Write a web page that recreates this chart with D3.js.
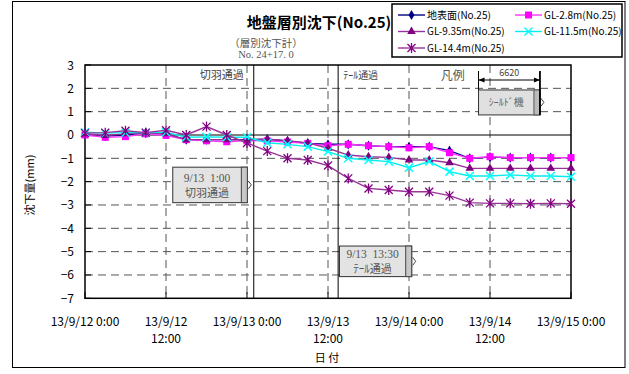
<!DOCTYPE html>
<html><head><meta charset="utf-8">
<script src="https://cdn.jsdelivr.net/npm/d3@7"></script>
<style>
body{margin:0;background:#fff;}
svg{display:block;}
text{font-family:"Noto Sans CJK JP","Noto Sans",sans-serif;}
</style></head>
<body><svg id="c" width="629" height="374"></svg>
<script>
const times = ["2013-09-12T00:00","2013-09-12T03:00","2013-09-12T06:00","2013-09-12T09:00","2013-09-12T12:00","2013-09-12T15:00","2013-09-12T18:00","2013-09-12T21:00",
"2013-09-13T00:00","2013-09-13T03:00","2013-09-13T06:00","2013-09-13T09:00","2013-09-13T12:00","2013-09-13T15:00","2013-09-13T18:00","2013-09-13T21:00",
"2013-09-14T00:00","2013-09-14T03:00","2013-09-14T06:00","2013-09-14T09:00","2013-09-14T12:00","2013-09-14T15:00","2013-09-14T18:00","2013-09-14T21:00",
"2013-09-15T00:00"];
const seriesNames = ["地表面(No.25)","GL-2.8m(No.25)","GL-9.35m(No.25)","GL-11.5m(No.25)","GL-14.4m(No.25)"];
const surface = [0.05,-0.05,0.0,0.1,0.05,-0.2,-0.2,-0.2,-0.2,-0.18,-0.26,-0.36,-0.4,-0.4,-0.46,-0.5,-0.5,-0.5,-0.67,-1.0,-0.95,-0.97,-0.97,-0.97,-0.97];
const gl28 = [0.0,-0.1,-0.07,0.05,-0.02,-0.2,-0.25,-0.29,-0.24,-0.25,-0.3,-0.36,-0.46,-0.4,-0.46,-0.5,-0.55,-0.5,-0.76,-1.0,-0.93,-0.97,-0.97,-0.97,-0.97];
const gl935 = [0.05,-0.02,0.05,0.1,0.05,-0.2,-0.2,-0.2,-0.22,-0.18,-0.24,-0.34,-0.57,-0.86,-0.93,-0.96,-1.07,-1.07,-1.19,-1.43,-1.43,-1.43,-1.43,-1.43,-1.43];
const gl115 = [0.12,0.08,0.1,0.1,0.12,-0.1,-0.08,-0.1,-0.1,-0.33,-0.4,-0.5,-0.71,-1.0,-1.07,-1.14,-1.4,-1.14,-1.57,-1.76,-1.76,-1.71,-1.76,-1.76,-1.79];
const gl144 = [0.08,0.1,0.18,0.1,0.2,0.0,0.36,0.0,-0.34,-0.69,-1.0,-1.07,-1.31,-1.86,-2.29,-2.36,-2.43,-2.43,-2.6,-2.9,-2.93,-2.93,-2.95,-2.93,-2.95];
const yTicks = [3,2,1,0,-1,-2,-3,-4,-5,-6,-7];
const xTickTimes = ["2013-09-12T00:00","2013-09-12T12:00","2013-09-13T00:00","2013-09-13T12:00","2013-09-14T00:00","2013-09-14T12:00","2013-09-15T00:00"];
const xTickLabels = [["13/9/12 0:00"],["13/9/12","12:00"],["13/9/13 0:00"],["13/9/13","12:00"],["13/9/14 0:00"],["13/9/14","12:00"],["13/9/15 0:00"]];
const events = [{t:"2013-09-13T01:00",label:"切羽通過",box:["9/13  1:00","切羽通過"]},{t:"2013-09-13T13:30",label:"ﾃｰﾙ通過",box:["9/13  13:30","ﾃｰﾙ通過"]}];

const parse = d3.timeParse("%Y-%m-%dT%H:%M");
const T = times.map(parse);
const svg = d3.select("#c");
const L=85,R=571,Tp=65,B=298.3;
const x = d3.scaleTime().domain([parse(xTickTimes[0]), parse(xTickTimes[6])]).range([L,R]);
const y = d3.scaleLinear().domain([-7,3]).range([B,Tp]);
const hr = h => new Date(T[0].getTime()+h*3600e3);

// outer frame
svg.append("rect").attr("x",12.5).attr("y",1.5).attr("width",612.5).attr("height",366).attr("fill","#fff").attr("stroke","#000").attr("stroke-width",1);

// gridlines
const g = svg.append("g");
yTicks.filter(v=>v!==3&&v!==-7&&v!==0).forEach(v=>{
  g.append("line").attr("x1",L).attr("x2",R).attr("y1",y(v)).attr("y2",y(v)).attr("stroke","#555").attr("stroke-dasharray","8,5");
});
xTickTimes.slice(1,6).forEach(t=>{
  g.append("line").attr("x1",x(parse(t))).attr("x2",x(parse(t))).attr("y1",Tp).attr("y2",B).attr("stroke","#555").attr("stroke-dasharray","8,5");
});
// zero line
g.append("line").attr("x1",L).attr("x2",R).attr("y1",y(0)).attr("y2",y(0)).attr("stroke","#000").attr("stroke-width",1.2);
// event lines
events.forEach(e=>{
  g.append("line").attr("x1",x(parse(e.t))).attr("x2",x(parse(e.t))).attr("y1",Tp).attr("y2",B).attr("stroke","#000").attr("stroke-width",1);
});
// plot frame
svg.append("rect").attr("x",L).attr("y",Tp).attr("width",R-L).attr("height",B-Tp).attr("fill","none").attr("stroke","#000").attr("stroke-width",1.5);

// y axis ticks
yTicks.forEach(v=>{
  svg.append("line").attr("x1",L).attr("x2",L+6).attr("y1",y(v)).attr("y2",y(v)).attr("stroke","#000");
  svg.append("text").attr("x",74).attr("y",y(v)+4.5).attr("text-anchor","end").attr("font-size",12).text(String(v).replace("-","−"));
});
// x labels
xTickTimes.forEach((t,i)=>{
  const xx=x(parse(t));
  svg.append("line").attr("x1",xx).attr("x2",xx).attr("y1",B).attr("y2",B-6).attr("stroke","#000");
  xTickLabels[i].forEach((s,j)=>{
    svg.append("text").attr("x",xx).attr("y",326+j*16.5).attr("text-anchor","middle").attr("font-size",12).text(s);
  });
});
svg.append("text").attr("x",327).attr("y",362).attr("text-anchor","middle").attr("font-size",11).text("日 付");
svg.append("text").attr("transform","translate(34,185) rotate(-90)").attr("text-anchor","middle").attr("font-size",11).text("沈下量(mm)");

// title
svg.append("text").attr("x",319).attr("y",28).attr("text-anchor","middle").attr("font-size",15).attr("font-weight","bold").text("地盤層別沈下(No.25)");
const serif='"Liberation Serif","DejaVu Serif","Noto Sans CJK JP",serif';
svg.append("text").attr("x",266).attr("y",47).attr("text-anchor","middle").attr("font-size",10.5).attr("fill","#555").style("font-family",serif).text("（層別沈下計）");
svg.append("text").attr("x",266).attr("y",58).attr("text-anchor","middle").attr("font-size",10.5).attr("fill","#555").style("font-family",serif).text("No. 24+17. 0");

// top event labels
svg.append("text").attr("x",x(parse(events[0].t))-10).attr("y",79).attr("text-anchor","end").attr("font-size",11).attr("fill","#444").text(events[0].label);
svg.append("text").attr("x",x(parse(events[1].t))+5).attr("y",79).attr("text-anchor","start").attr("font-size",10).attr("fill","#444").text(events[1].label);
svg.append("text").attr("x",x(hr(54.5))).attr("y",80).attr("text-anchor","middle").attr("font-size",12).attr("fill","#555").text("凡例");

// shield symbol
const sx0=x(hr(58.3)), sx1=x(hr(67.4));
svg.append("rect").attr("x",sx0).attr("y",y(1.93)).attr("width",sx1-sx0).attr("height",y(0.86)-y(1.93)).attr("fill","#e0e0e0").attr("stroke","#333");
svg.append("rect").attr("x",sx1-6).attr("y",y(1.93)).attr("width",6).attr("height",y(0.86)-y(1.93)).attr("fill","#bbb").attr("stroke","#555");
svg.append("path").attr("d",`M${sx1+1},${y(1.4)-4}L${sx1+4},${y(1.4)}L${sx1+1},${y(1.4)+4}`).attr("fill","none").attr("stroke","#444");
svg.append("text").attr("x",(sx0+sx1)/2-3).attr("y",y(1.4)+4).attr("text-anchor","middle").attr("font-size",10).attr("fill","#666").text("ｼｰﾙﾄﾞ機");
svg.append("line").attr("x1",sx0).attr("x2",sx0).attr("y1",71).attr("y2",y(1.93)).attr("stroke","#000");
svg.append("line").attr("x1",sx1).attr("x2",sx1).attr("y1",71).attr("y2",y(0.86)).attr("stroke","#000").attr("stroke-width",1.8);
svg.append("line").attr("x1",sx0).attr("x2",sx1).attr("y1",80).attr("y2",80).attr("stroke","#000");
svg.append("path").attr("d",`M${sx0},80L${sx0+6},77.5L${sx0+6},82.5Z M${sx1},80L${sx1-6},77.5L${sx1-6},82.5Z`).attr("fill","#000");
svg.append("text").attr("x",(sx0+sx1)/2).attr("y",76).attr("text-anchor","middle").attr("font-size",9).attr("fill","#444").text("6620");

// annotation boxes
function annBox(h0,h1,v0,v1,lines){
  const bx0=x(hr(h0)),bx1=x(hr(h1)),by0=y(v0),by1=y(v1);
  svg.append("rect").attr("x",bx0).attr("y",by0).attr("width",bx1-bx0).attr("height",by1-by0).attr("fill","#e3e3e3").attr("stroke","#333");
  svg.append("rect").attr("x",bx1-6).attr("y",by0).attr("width",6).attr("height",by1-by0).attr("fill","#c8c8c8").attr("stroke","#444");
  const my=(by0+by1)/2;
  svg.append("path").attr("d",`M${bx1+1},${my-4}L${bx1+4},${my}L${bx1+1},${my+4}`).attr("fill","none").attr("stroke","#444");
  const cx=(bx0+bx1-6)/2;
  svg.append("text").attr("x",cx).attr("y",my-3).attr("text-anchor","middle").attr("font-size",11.5).attr("fill","#555").style("font-family",serif).style("white-space","pre").text(lines[0]);
  svg.append("text").attr("x",cx).attr("y",my+12).attr("text-anchor","middle").attr("font-size",11).attr("fill","#555").text(lines[1]);
}
annBox(13.0,24.05,-1.38,-2.9,events[0].box);
annBox(37.7,48.4,-4.76,-6.07,events[1].box);

// series
const series = [
 {name:seriesNames[0],vals:surface,color:"#000080",lc:"#000080",m:"diamond"},
 {name:seriesNames[1],vals:gl28,color:"#ff00ff",lc:"#ff33ff",m:"square"},
 {name:seriesNames[2],vals:gl935,color:"#800080",lc:"#993399",m:"triangle"},
 {name:seriesNames[3],vals:gl115,color:"#00ffff",lc:"#00eeee",m:"x"},
 {name:seriesNames[4],vals:gl144,color:"#800080",lc:"#993399",m:"star"}
];
function marker(sel,m,color,cx,cy){
  if(m==="diamond") sel.append("path").attr("d",d3.symbol(d3.symbolDiamond,30)()).attr("transform",`translate(${cx},${cy})`).attr("fill",color);
  else if(m==="square") sel.append("rect").attr("x",cx-3.5).attr("y",cy-3.5).attr("width",7).attr("height",7).attr("fill",color);
  else if(m==="triangle") sel.append("path").attr("d",d3.symbol(d3.symbolTriangle,32)()).attr("transform",`translate(${cx},${cy})`).attr("fill",color);
  else if(m==="x") sel.append("path").attr("d",`M${cx-4},${cy-4}L${cx+4},${cy+4}M${cx-4},${cy+4}L${cx+4},${cy-4}`).attr("stroke",color).attr("stroke-width",1.5);
  else if(m==="star") sel.append("path").attr("d",`M${cx-4},${cy-4}L${cx+4},${cy+4}M${cx-4},${cy+4}L${cx+4},${cy-4}M${cx},${cy-5}L${cx},${cy+5}`).attr("stroke",color).attr("stroke-width",1.3);
}
const line = d3.line().x((d,i)=>x(T[i])).y(d=>y(d));
series.forEach(s=>{
  const sg=svg.append("g");
  sg.append("path").datum(s.vals).attr("d",line).attr("fill","none").attr("stroke",s.lc).attr("stroke-width",1.4);
  s.vals.forEach((v,i)=>marker(sg,s.m,s.color,x(T[i]),y(v)));
});

// legend
svg.append("rect").attr("x",392).attr("y",4).attr("width",230).attr("height",53).attr("fill","#fff").attr("stroke","#000").attr("stroke-width",1.5);
series.forEach((s,i)=>{
  const col=i%2,row=Math.floor(i/2);
  const lx=col?515:398, ly=15+row*16.5;
  svg.append("line").attr("x1",lx).attr("x2",lx+27).attr("y1",ly).attr("y2",ly).attr("stroke",s.lc).attr("stroke-width",1.4);
  marker(svg,s.m,s.color,lx+13.5,ly);
  svg.append("text").attr("x",lx+29).attr("y",ly+3.8).attr("font-size",10).text(s.name);
});
</script></body></html>
